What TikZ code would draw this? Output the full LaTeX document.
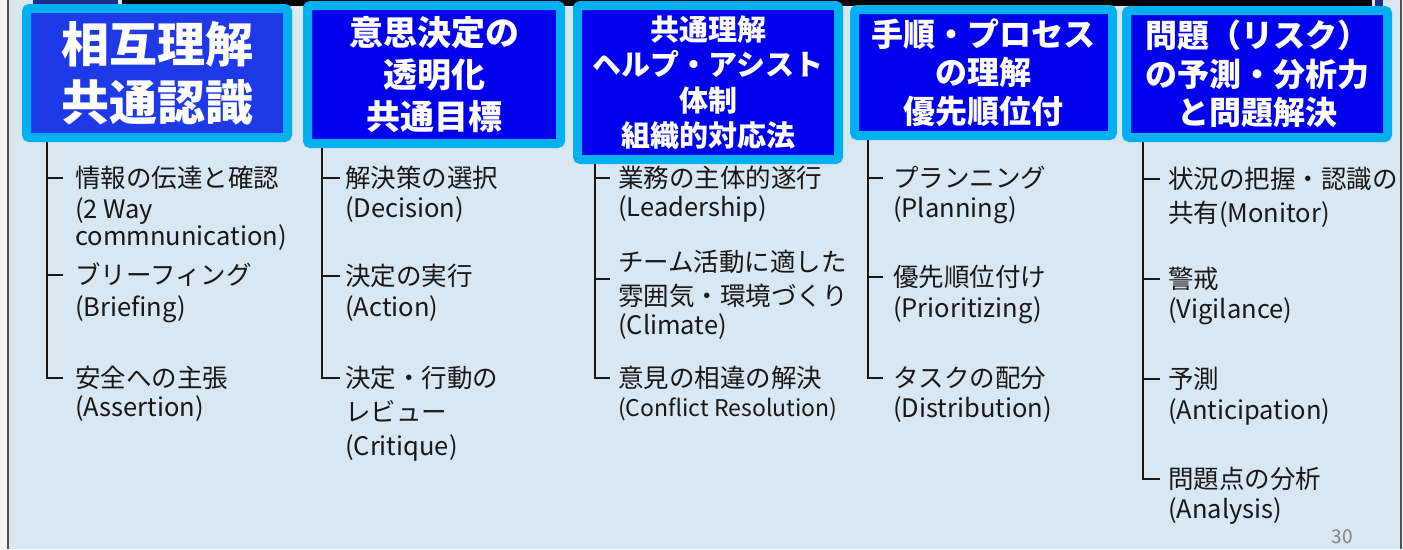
\documentclass[tikz,border=0pt]{standalone}
\usepackage{fontspec}
\newfontfamily\jp{Noto Sans CJK JP}
\usetikzlibrary{calc}
\definecolor{bg}{RGB}{217,231,243}
\definecolor{cyanb}{RGB}{0,176,240}
\definecolor{blueA}{RGB}{30,58,232}
\definecolor{blueB}{RGB}{0,0,238}
\definecolor{ink}{RGB}{24,24,24}
\definecolor{navyA}{RGB}{30,45,140}
\definecolor{frame}{RGB}{80,80,80}
\begin{document}
\begin{tikzpicture}[x=1pt,y=-1pt,
  head/.style={draw=cyanb, line width=9pt, rounded corners=3pt, fill=blueB, text=white, align=center, inner sep=0pt},
  item/.style={anchor=west, inner sep=0pt, text height=19pt, text depth=0pt, text=ink, font=\jp\fontsize{25.5}{29}\selectfont},
  trunk/.style={draw=ink, line width=1.8pt},
]
\useasboundingbox (0,0) rectangle (1403,549);
\fill[bg] (0,0) rectangle (1403,549);
\fill[white!92!gray] (0,0) rectangle (7,549);
\fill[white!92!gray] (1402,0) rectangle (1403,549);
\draw[frame, line width=2pt] (8,0) -- (8,549);
\draw[frame, line width=2pt] (1401,0) -- (1401,549);
\fill[navyA] (33,0) rectangle (118,5);
\fill[black] (122,0) rectangle (1372,6);
\fill[navyA] (1375,0) rectangle (1383,7);

% trunk x positions
\coordinate (t1) at (47,0);
\coordinate (t2) at (322,0);
\coordinate (t3) at (595,0);
\coordinate (t4) at (868,0);
\coordinate (t5) at (1143,0);

% column 1 items
\node[item] (a1) at (75,178) {情報の伝達と確認};
\node[item] (a1b) at (75,209) {(2 Way};
\node[item] (a1c) at (75,236) {commnunication)};
\node[item] (a2) at (75,275) {ブリーフィング};
\node[item] (a2b) at (75,307) {(Briefing)};
\node[item] (a3) at (75,378) {安全への主張};
\node[item] (a3b) at (75,407) {(Assertion)};

% column 2 items
\node[item] (b1i) at (345,178) {解決策の選択};
\node[item] (b1ib) at (345,208) {(Decision)};
\node[item] (b2i) at (345,276) {決定の実行};
\node[item] (b2ib) at (345,307) {(Action)};
\node[item] (b3i) at (345,378) {決定・行動の};
\node[item] (b3ib) at (345,412) {レビュー};
\node[item] (b3ic) at (345,446) {(Critique)};

% column 3 items
\node[item] (c1) at (618,178) {業務の主体的遂行};
\node[item] (c1b) at (618,207) {(Leadership)};
\node[item] (c2) at (618,262) {チーム活動に適した};
\node[item] (c2b) at (618,296) {雰囲気・環境づくり};
\node[item] (c2c) at (618,325) {(Climate)};
\node[item] (c3) at (618,378) {意見の相違の解決};
\node[item, font=\jp\fontsize{23}{29}\selectfont] (c3b) at (618,407) {(Conflict Resolution)};

% column 4 items
\node[item] (d1) at (893,178) {プランニング};
\node[item] (d1b) at (893,208) {(Planning)};
\node[item] (d2) at (893,277) {優先順位付け};
\node[item] (d2b) at (893,308) {(Prioritizing)};
\node[item] (d3) at (893,378) {タスクの配分};
\node[item] (d3b) at (893,408) {(Distribution)};

% column 5 items
\node[item] (e1) at (1168,179) {状況の把握・認識の};
\node[item] (e1b) at (1168,213) {共有(Monitor)};
\node[item] (e2) at (1168,279) {警戒};
\node[item] (e2b) at (1168,309) {(Vigilance)};
\node[item] (e3) at (1168,379) {予測};
\node[item] (e3b) at (1168,410) {(Anticipation)};
\node[item] (e4) at (1168,479) {問題点の分析};
\node[item] (e4b) at (1168,509) {(Analysis)};

% header boxes (positions)
\coordinate (p1) at (157,73);
\coordinate (p2) at (434,74.5);
\coordinate (p3) at (708,82.5);
\coordinate (p4) at (983.5,72.5);
\coordinate (p5) at (1257,74);

% trunks
\draw[trunk] (p1 -| t1) |- ([xshift=-12pt]a3.west);
\draw[trunk] (a1.west -| t1) -- ([xshift=-12pt]a1.west);
\draw[trunk] (a2.west -| t1) -- ([xshift=-12pt]a2.west);

\draw[trunk] (p2 -| t2) |- ([xshift=-5pt]b3i.west);
\draw[trunk] (b1i.west -| t2) -- ([xshift=-5pt]b1i.west);
\draw[trunk] (b2i.west -| t2) -- ([xshift=-5pt]b2i.west);

\coordinate (c2m) at ($(c2.west)!0.5!(c2b.west)$);
\draw[trunk] (p3 -| t3) |- ([xshift=-8pt]c3.west);
\draw[trunk] (c1.west -| t3) -- ([xshift=-8pt]c1.west);
\draw[trunk] (c2m -| t3) -- ([xshift=-8pt]c2m);

\draw[trunk] (p4 -| t4) |- ([xshift=-10pt]d3.west);
\draw[trunk] (d1.west -| t4) -- ([xshift=-10pt]d1.west);
\draw[trunk] (d2.west -| t4) -- ([xshift=-10pt]d2.west);

\draw[trunk] (p5 -| t5) |- ([xshift=-8pt]e4.west);
\draw[trunk] (e1.west -| t5) -- ([xshift=-8pt]e1.west);
\draw[trunk] (e2.west -| t5) -- ([xshift=-8pt]e2.west);
\draw[trunk] (e3.west -| t5) -- ([xshift=-8pt]e3.west);

% header boxes
\node[head, fill=blueA, minimum width=261pt, minimum height=129pt, font=\jp\bfseries\fontsize{48}{58}\selectfont] (h1) at (p1) {相互理解\\共通認識};
\node[head, minimum width=253pt, minimum height=138pt, font=\jp\bfseries\fontsize{34}{42}\selectfont] (h2) at (p2) {意思決定の\\透明化\\共通目標};
\node[head, minimum width=261pt, minimum height=154pt, font=\jp\bfseries\fontsize{29}{35.5}\selectfont] (h3) at (p3) {共通理解\\ヘルプ・アシスト\\体制\\組織的対応法};
\node[head, minimum width=258pt, minimum height=126pt, font=\jp\bfseries\fontsize{32}{38.5}\selectfont] (h4) at (p4) {手順・プロセス\\の理解\\優先順位付};
\node[head, minimum width=261pt, minimum height=127pt, font=\jp\bfseries\fontsize{32}{38.5}\selectfont] (h5) at (p5) {問題（リスク）\\の予測・分析力\\と問題解決};

\node[inner sep=0pt, text=gray, font=\jp\fontsize{19}{20}\selectfont] (pg) at (1342,537) {30};
\end{tikzpicture}
\end{document}
